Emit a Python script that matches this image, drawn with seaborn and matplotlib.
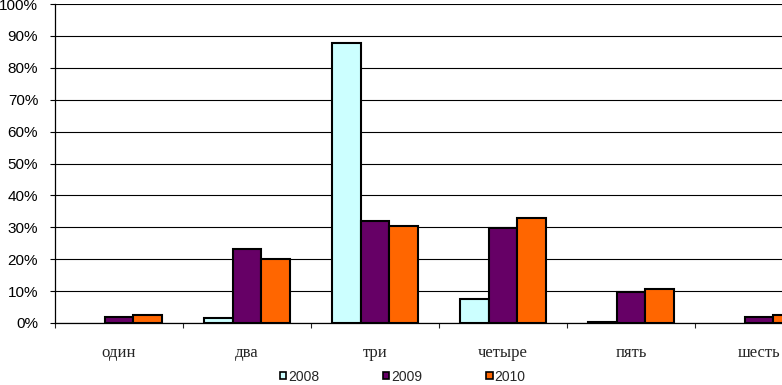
import matplotlib
matplotlib.use("Agg")
import matplotlib.pyplot as plt
import matplotlib.ticker as mticker
import numpy as np
import pandas as pd
import seaborn as sns

categories = ["один", "два", "три", "четыре", "пять", "шесть"]
years = ["2008", "2009", "2010"]
share_2008 = [0.0, 1.6, 87.9, 7.5, 0.2, 0.0]
share_2009 = [2.0, 23.3, 32.1, 29.7, 9.7, 2.0]
share_2010 = [2.4, 20.0, 30.5, 32.9, 10.6, 2.4]
colors = ["#CCFFFF", "#660066", "#FF6600"]

df = pd.DataFrame({
    "category": categories * 3,
    "year": np.repeat(years, len(categories)),
    "share": share_2008 + share_2009 + share_2010,
})

sns.set_style("white")
plt.rcParams["font.family"] = ["Liberation Sans", "DejaVu Sans"]

fig = plt.figure(figsize=(7.82, 3.85), dpi=100)
# plot area runs past the right edge of the picture, like the original
ax = fig.add_axes([55 / 782, 62 / 385, 768 / 782, 319 / 385])

sns.barplot(data=df, x="category", y="share", hue="year", order=categories,
            hue_order=years, palette=colors, width=2 / 3, edgecolor="black",
            linewidth=1.5, saturation=1, ax=ax, legend=True)

# empty bars should not leave an outline on the axis
for bar in ax.patches:
    if bar.get_height() == 0:
        bar.set_linewidth(0)

ax.set_xlim(-0.5, len(categories) - 0.5)
ax.set_ylim(0, 100)
ax.set_yticks(np.arange(0, 101, 10))
ax.yaxis.set_major_formatter(mticker.PercentFormatter(xmax=100, decimals=0))
ax.grid(axis="y", color="black", linewidth=0.8)
ax.set_axisbelow(True)
ax.set_xlabel("")
ax.set_ylabel("")

for side in ["top", "right"]:
    ax.spines[side].set_visible(False)
for side in ["left", "bottom"]:
    ax.spines[side].set_color("black")
    ax.spines[side].set_linewidth(0.9)

ax.tick_params(axis="y", left=True, length=3.6, width=0.8, pad=8.5,
               labelsize=11, colors="black")
ax.set_xticks(np.arange(-0.5, len(categories), 1), minor=True)
ax.tick_params(axis="x", which="minor", bottom=True, length=3.6, width=0.8)
ax.tick_params(axis="x", which="major", bottom=False, length=0, pad=16)
for lbl in ax.get_xticklabels():
    lbl.set_fontfamily(["Liberation Serif", "DejaVu Serif"])
    lbl.set_fontsize(12)

handles, labels = ax.get_legend_handles_labels()
ax.get_legend().remove()
for h in handles:
    h.set_edgecolor("black")
    h.set_linewidth(1.2)
fig.legend(handles, labels, loc="center", bbox_to_anchor=(0.515, 0.022),
           ncol=3, frameon=False, fontsize=10, handlelength=0.45,
           handleheight=0.45, handletextpad=0.15, columnspacing=4.6,
           borderaxespad=0, borderpad=0)

fig.savefig("out.png", dpi=100)
